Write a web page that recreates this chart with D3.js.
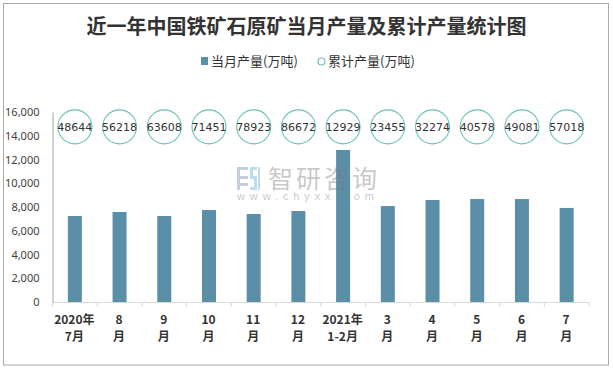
<!DOCTYPE html>
<html>
<head>
<meta charset="utf-8">
<script src="https://cdnjs.cloudflare.com/ajax/libs/d3/7.8.5/d3.min.js"></script>
<style>
    html, body { margin: 0; padding: 0; background: #fff; }
    svg { display: block; }
</style>
</head>
<body>
<div id="chart"></div>
<script>
const titleText = "近一年中国铁矿石原矿当月产量及累计产量统计图";
const barSeriesName = "当月产量(万吨)";
const circleSeriesName = "累计产量(万吨)";
const categories = ["2020年|7月", "8|月", "9|月", "10|月", "11|月", "12|月", "2021年|1-2月", "3|月", "4|月", "5|月", "6|月", "7|月"];
const monthly = [7240, 7580, 7240, 7750, 7410, 7660, 12800, 8080, 8590, 8670, 8670, 7920];
const cumulative = [48644, 56218, 63608, 71451, 78923, 86672, 12929, 23455, 32274, 40578, 49081, 57018];
const yTicks = [0, 2000, 4000, 6000, 8000, 10000, 12000, 14000, 16000];
const circleLevel = 14750;  // circles all sit at one height, the real values are only in the labels

const BAR_COLOR = "#5b8fa8";
const CIRCLE_COLOR = "#66c2bb";
const SANS = "'Noto Sans CJK SC', 'Noto Sans', sans-serif";

var width = 613, height = 370;
var margin = {top: 112, right: 24, bottom: 68, left: 52.5};

var svg = d3.select("#chart").append("svg")
    .attr("width", width)
    .attr("height", height);

// outer frame
svg.append("rect")
    .attr("x", 3.5).attr("y", 3.5)
    .attr("width", 605).attr("height", 361.5)
    .attr("fill", "#fff")
    .attr("stroke", "#a9a9a9")
    .attr("stroke-width", 1);

var x = d3.scaleBand()
    .domain(categories)
    .range([margin.left, width - margin.right]);

var y = d3.scaleLinear()
    .domain([0, 16000])
    .range([height - margin.bottom, margin.top]);

// Bars
svg.append("g").selectAll("rect")
    .data(monthly)
    .join("rect")
    .attr("x", function(d, i) { return x(categories[i]) + x.bandwidth() / 2 - 7; })
    .attr("y", function(d) { return y(d); })
    .attr("width", 14)
    .attr("height", function(d) { return y(0) - y(d); })
    .attr("fill", BAR_COLOR);

// watermark, sits over the bars and shows through
var mark = svg.append("g").attr("class", "watermark");
mark.append("path")
    .attr("d", "M237,167h11v3h-8v6h8v3h-8v4h8v3h-8v4h-3z")
    .attr("fill", "#c5cde0");
mark.append("path")
    .attr("d", "M250,167h7v3h-4v6h4v14h-7v-3h4v-8h-4zM258,167h2v23h-2z")
    .attr("fill", "#bcdcf0");
mark.append("text")
    .attr("x", 268).attr("y", 188)
    .attr("font-family", SANS)
    .attr("font-size", 25)
    .attr("letter-spacing", 3)
    .attr("fill", "#787878")
    .attr("fill-opacity", 0.42)
    .text("智研咨询");
mark.append("text")
    .attr("x", 237).attr("y", 200)
    .attr("font-family", "'Liberation Sans', sans-serif")
    .attr("font-size", 11)
    .attr("letter-spacing", 4.9)
    .attr("fill", "#787878")
    .attr("fill-opacity", 0.42)
    .text("www.chyxx.com");

// y axis, labels only plus the plain line
var yAxis = d3.axisLeft(y).tickValues(yTicks).tickSize(0).tickPadding(13)
    .tickFormat(d3.format(","));
var yGroup = svg.append("g")
    .attr("transform", "translate(" + margin.left + ",0)")
    .call(yAxis);
yGroup.select(".domain").attr("stroke", "#a6a6a6");
yGroup.selectAll("text")
    .attr("font-family", "'Noto Sans', sans-serif")
    .attr("font-size", 11)
    .attr("fill", "#404040");

// x axis
var tickEdges = categories.map(function(c) { return x(c); }).concat([width - margin.right]);
var xGroup = svg.append("g");
xGroup.append("line")
    .attr("x1", margin.left).attr("x2", width - margin.right)
    .attr("y1", y(0) + 0.5).attr("y2", y(0) + 0.5)
    .attr("stroke", "#d9d9d9");
xGroup.selectAll("line.tick")
    .data(tickEdges)
    .join("line")
    .attr("class", "tick")
    .attr("x1", function(d) { return d; }).attr("x2", function(d) { return d; })
    .attr("y1", y(0)).attr("y2", y(0) + 5)
    .attr("stroke", "#d9d9d9");

categories.forEach(function(c) {
    var parts = c.split("|");
    parts.forEach(function(part, i) {
        xGroup.append("text")
            .attr("x", x(c) + x.bandwidth() / 2 - 0.5)
            .attr("y", y(0) + 22 + i * 17)
            .attr("text-anchor", "middle")
            .attr("font-family", SANS)
            .attr("font-weight", 700)
            .attr("font-size", 12)
            .attr("fill", "#333")
            .text(part);
    });
});

// Circles with the cumulative values
var circles = svg.append("g").selectAll("g")
    .data(cumulative)
    .join("g")
    .attr("transform", function(d, i) {
        return "translate(" + (x(categories[i]) + x.bandwidth() / 2) + "," + y(circleLevel) + ")";
    });
circles.append("circle")
    .attr("r", 17)
    .attr("fill", "none")
    .attr("stroke", CIRCLE_COLOR)
    .attr("stroke-width", 1.1);
circles.append("text")
    .attr("text-anchor", "middle")
    .attr("dy", "0.36em")
    .attr("font-family", "'DejaVu Sans', sans-serif")
    .attr("font-size", 11)
    .attr("fill", "#333")
    .text(function(d) { return d; });

// Title
svg.append("text")
    .attr("x", 306.5).attr("y", 34)
    .attr("text-anchor", "middle")
    .attr("font-family", SANS)
    .attr("font-weight", 700)
    .attr("font-size", 20)
    .attr("fill", "#333")
    .text(titleText);

// Legend
var legend = svg.append("g");
legend.append("rect")
    .attr("x", 201).attr("y", 57)
    .attr("width", 7).attr("height", 8)
    .attr("fill", BAR_COLOR);
legend.append("text")
    .attr("x", 211).attr("y", 66)
    .attr("font-family", SANS)
    .attr("font-size", 13)
    .attr("fill", "#333")
    .text(barSeriesName);
legend.append("circle")
    .attr("cx", 321.5).attr("cy", 61.5)
    .attr("r", 3.5)
    .attr("fill", "none")
    .attr("stroke", CIRCLE_COLOR)
    .attr("stroke-width", 1.2);
legend.append("text")
    .attr("x", 328).attr("y", 66)
    .attr("font-family", SANS)
    .attr("font-size", 13)
    .attr("fill", "#333")
    .text(circleSeriesName);
</script>
</body>
</html>
